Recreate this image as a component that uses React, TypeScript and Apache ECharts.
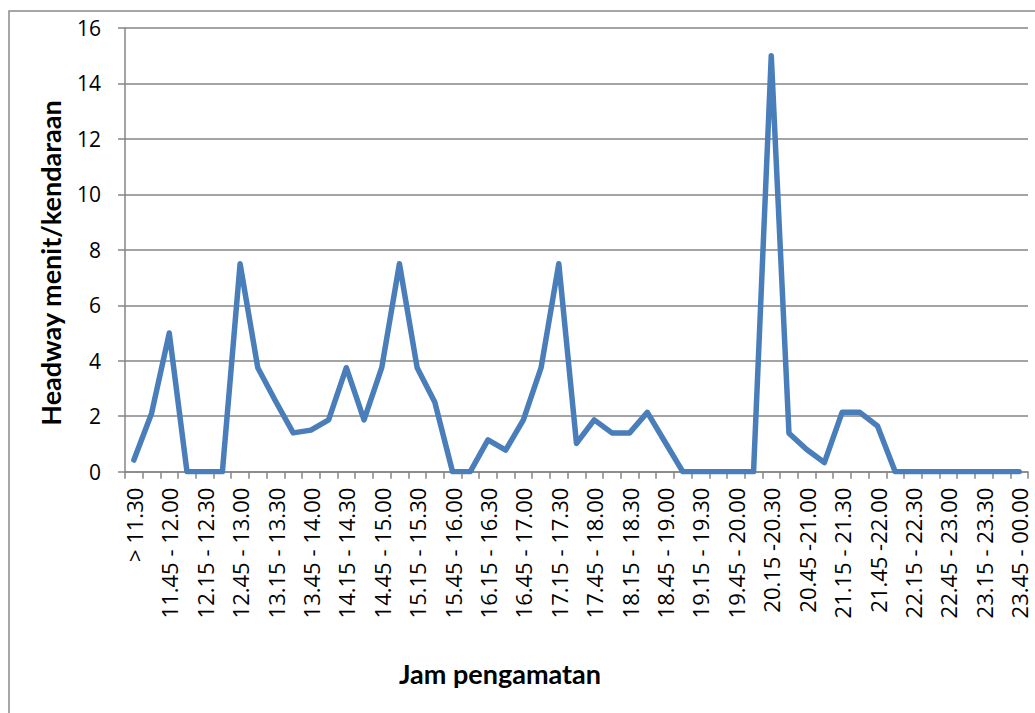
import React, { useEffect, useRef } from "react";
import * as echarts from "echarts";

const categories: string[] = [
  "> 11.30", "11.30 - 11.45", "11.45 - 12.00", "12.00 - 12.15", "12.15 - 12.30", "12.30 - 12.45",
  "12.45 - 13.00", "13.00 - 13.15", "13.15 - 13.30", "13.30 - 13.45", "13.45 - 14.00", "14.00 - 14.15",
  "14.15 - 14.30", "14.30 - 14.45", "14.45 - 15.00", "15.00 - 15.15", "15.15 - 15.30", "15.30 - 15.45",
  "15.45 - 16.00", "16.00 - 16.15", "16.15 - 16.30", "16.30 - 16.45", "16.45 - 17.00", "17.00 - 17.15",
  "17.15 - 17.30", "17.30 - 17.45", "17.45 - 18.00", "18.00 - 18.15", "18.15 - 18.30", "18.30 - 18.45",
  "18.45 - 19.00", "19.00 - 19.15", "19.15 - 19.30", "19.30 - 19.45", "19.45 - 20.00", "20.00 - 20.15",
  "20.15 -20.30", "20.30 - 20.45", "20.45 -21.00", "21.00 - 21.15", "21.15 - 21.30", "21.30 - 21.45",
  "21.45 -22.00", "22.00 - 22.15", "22.15 - 22.30", "22.30 - 22.45", "22.45 - 23.00", "23.00 - 23.15",
  "23.15 - 23.30", "23.30 - 23.45", "23.45 - 00.00",
];

const headway: number[] = [
  0.42, 2.1, 5.0, 0, 0, 0, 7.5, 3.75, 2.55, 1.4,
  1.5, 1.87, 3.75, 1.87, 3.75, 7.5, 3.75, 2.5, 0, 0,
  1.15, 0.78, 1.87, 3.75, 7.5, 1.02, 1.87, 1.4, 1.4, 2.14,
  1.07, 0, 0, 0, 0, 0, 15, 1.39, 0.8, 0.33,
  2.14, 2.14, 1.65, 0, 0, 0, 0, 0, 0, 0, 0,
];

const yTicks = { min: 0, max: 16, interval: 2 };
const xTitle = "Jam pengamatan";
const yTitle = "Headway menit/kendaraan";

export default function App() {
  const ref = useRef<HTMLDivElement>(null);
  useEffect(() => {
    if (!ref.current) return;
    const chart = echarts.init(ref.current, null, { renderer: "svg" });
    const font = "'Open Sans', Lato, sans-serif";
    const titleFont = "bold 27px Lato, 'Open Sans', sans-serif";
    chart.setOption({
      animation: false,
      backgroundColor: "#ffffff",
      grid: { left: 125, right: 7, top: 28, bottom: 241.3, containLabel: false },
      xAxis: {
        type: "category",
        data: categories,
        boundaryGap: true,
        axisLine: { show: true, lineStyle: { color: "#868686", width: 1.5 } },
        axisTick: { show: true, interval: 0, length: 7, lineStyle: { color: "#868686", width: 1.5 } },
        axisLabel: {
          interval: 1,
          rotate: 90,
          margin: 16,
          color: "#000",
          fontFamily: font,
          fontSize: 22,
          lineHeight: 16,
        },
        splitLine: { show: false },
      },
      yAxis: {
        type: "value",
        min: yTicks.min,
        max: yTicks.max,
        interval: yTicks.interval,
        axisLine: { show: true, lineStyle: { color: "#868686", width: 1.5 } },
        axisTick: { show: true, length: 7, lineStyle: { color: "#868686", width: 1.5 } },
        axisLabel: { margin: 24, color: "#000", fontFamily: font, fontSize: 21 },
        splitLine: { show: true, lineStyle: { color: "#868686", width: 1.5 } },
      },
      series: [
        {
          type: "line",
          data: headway,
          showSymbol: false,
          symbol: "none",
          lineStyle: { color: "#4a7ebb", width: 5.5, join: "round", cap: "round" },
        },
      ],
      graphic: [
        {
          type: "rect",
          shape: { x: 9, y: 11, width: 1040, height: 720 },
          style: { fill: "none", stroke: "#898989", lineWidth: 1.5 },
          silent: true,
          z: -1,
        },
        {
          type: "text",
          x: 500,
          y: 673,
          style: {
            text: xTitle,
            font: titleFont,
            fill: "#000",
            align: "center",
            verticalAlign: "middle",
          },
        },
        {
          type: "text",
          x: 50,
          y: 263,
          rotation: Math.PI / 2,
          style: {
            text: yTitle,
            font: titleFont,
            fill: "#000",
            align: "center",
            verticalAlign: "middle",
          },
        },
      ],
    });
    return () => chart.dispose();
  }, []);
  return (
    <div
      ref={ref}
      style={{ position: "fixed", left: 0, top: 0, width: 1035, height: 713, background: "#fff" }}
    />
  );
}
